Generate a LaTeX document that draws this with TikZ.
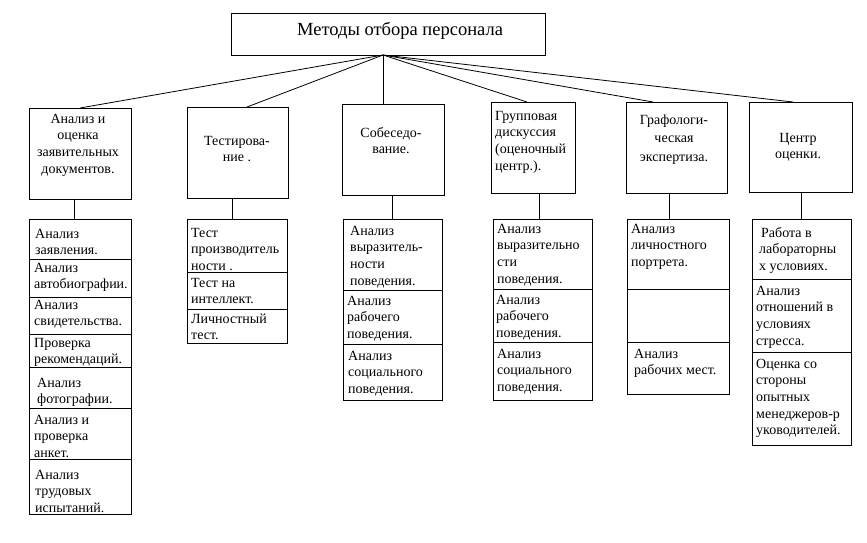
\documentclass[tikz,border=0pt]{standalone}
\usepackage{fontspec}
\setmainfont{Liberation Serif}
\usetikzlibrary{calc}
\newcommand{\cellfont}{\fontsize{14}{16.6}\selectfont}
\newcommand{\titlefont}{\fontsize{18.5}{21}\selectfont}
\tikzset{
  box/.style={draw, line width=0.8pt, inner sep=0pt, anchor=north west},
  txt/.style={anchor=north west, inner sep=0pt, align=left, font=\cellfont, yshift=11.62pt},
  ctxt/.style={anchor=north, inner sep=0pt, align=center, font=\cellfont, yshift=11.62pt},
  conn/.style={line width=0.8pt},
}
\begin{document}
\begin{tikzpicture}[x=1pt,y=-1pt]
\useasboundingbox (0,0) rectangle (867,542);
% title
\node[box, minimum width=314pt, minimum height=42pt] (title) at (231,13) {};
\node[anchor=base west, inner sep=0pt, font=\titlefont] (titletext) at (297,35) {Методы отбора персонала};
\coordinate (hub) at (383,55);
% top boxes
\node[box, minimum width=102pt, minimum height=91pt] (b1) at (29,108) {};
\node[box, minimum width=101pt, minimum height=91pt] (b2) at (187,107) {};
\node[box, minimum width=102pt, minimum height=91pt] (b3) at (342,104) {};
\node[box, minimum width=84pt, minimum height=91pt] (b4) at (491,102) {};
\node[box, minimum width=101pt, minimum height=91pt] (b5) at (626,102) {};
\node[box, minimum width=103pt, minimum height=90pt] (b6) at (749,102) {};
\node[ctxt] (t1) at (78,123) {\strut Анализ и\\оценка\\заявительных\\документов.};
\node[ctxt] (t2) at (237,145) {\strut Тестирова-\\ние .};
\node[ctxt] (t3) at (391,137) {\strut Собеседо-\\вание.};
\node[txt] (t4) at (495,120) {\strut Групповая\\дискуссия\\(оценочный\\центр.).};
\node[ctxt] (t5) at (674,124) {\strut Графологи-\\[2pt]ческая\\[2pt]экспертиза.};
\node[ctxt] (t6) at (798,142) {\strut Центр\\оценки.};
% connectors from title
\draw[conn] (hub) -- ($(b1.north west)+(51,0)$);
\draw[conn] (hub) -- ($(b2.north west)+(60,0)$);
\draw[conn] (hub) -- ($(b3.north west)+(41,0)$);
\draw[conn] (hub) -- ($(b4.north west)+(36,0)$);
\draw[conn] (hub) -- ($(b5.north west)+(27,0)$);
\draw[conn] (hub) -- ($(b6.north west)+(44,0)$);
% column 1
\node[box, minimum width=102pt, minimum height=40pt] (c1a) at (29,219) {};
\node[box, minimum width=102pt, minimum height=38pt] (c1b) at (29,259) {};
\node[box, minimum width=102pt, minimum height=37pt] (c1c) at (29,297) {};
\node[box, minimum width=102pt, minimum height=33pt] (c1d) at (29,334) {};
\node[box, minimum width=102pt, minimum height=41pt] (c1e) at (29,367) {};
\node[box, minimum width=102pt, minimum height=51pt] (c1f) at (29,408) {};
\node[box, minimum width=102pt, minimum height=55pt] (c1g) at (29,459) {};
\node[txt] (s1a) at (35,238) {\strut Анализ\\заявления.};
\node[txt] (s1b) at (34,272) {\strut Анализ\\автобиографии.};
\node[txt] (s1c) at (34,309) {\strut Анализ\\свидетельства.};
\node[txt] (s1d) at (34,347) {\strut Проверка\\рекомендаций.};
\node[txt] (s1e) at (37,387) {\strut Анализ\\фотографии.};
\node[txt] (s1f) at (34,424) {\strut Анализ и\\проверка\\анкет.};
\node[txt] (s1g) at (35,479) {\strut Анализ\\трудовых\\испытаний.};
% column 2
\node[box, minimum width=100pt, minimum height=53pt] (c2a) at (187,219) {};
\node[box, minimum width=100pt, minimum height=37pt] (c2b) at (187,272) {};
\node[box, minimum width=100pt, minimum height=34pt] (c2c) at (187,309) {};
\node[txt] (s2a) at (191,237) {\strut Тест\\производитель\\ности .};
\node[txt] (s2b) at (191,287) {\strut Тест на\\интеллект.};
\node[txt] (s2c) at (191,323) {\strut Личностный\\тест.};
% column 3
\node[box, minimum width=99pt, minimum height=71pt] (c3a) at (343,219) {};
\node[box, minimum width=99pt, minimum height=54pt] (c3b) at (343,290) {};
\node[box, minimum width=99pt, minimum height=56pt] (c3c) at (343,344) {};
\node[txt] (s3a) at (350,235) {\strut Анализ\\выразитель-\\ности\\поведения.};
\node[txt] (s3b) at (347,305) {\strut Анализ\\рабочего\\поведения.};
\node[txt] (s3c) at (348,360) {\strut Анализ\\социального\\поведения.};
% column 4
\node[box, minimum width=99pt, minimum height=70pt] (c4a) at (493,219) {};
\node[box, minimum width=99pt, minimum height=53pt] (c4b) at (493,289) {};
\node[box, minimum width=99pt, minimum height=58pt] (c4c) at (493,342) {};
\node[txt] (s4a) at (497,233) {\strut Анализ\\выразительно\\сти\\поведения.};
\node[txt] (s4b) at (496,304) {\strut Анализ\\рабочего\\поведения.};
\node[txt] (s4c) at (497,358) {\strut Анализ\\социального\\поведения.};
% column 5
\node[box, minimum width=102pt, minimum height=70pt] (c5a) at (627,219) {};
\node[box, minimum width=102pt, minimum height=53pt] (c5b) at (627,289) {};
\node[box, minimum width=102pt, minimum height=52pt] (c5c) at (627,342) {};
\node[txt] (s5a) at (631,233) {\strut Анализ\\личностного\\портрета.};
\node[txt] (s5c) at (634,358) {\strut Анализ\\рабочих мест.};
% column 6
\node[box, minimum width=99pt, minimum height=60pt] (c6a) at (752,219) {};
\node[box, minimum width=99pt, minimum height=73pt] (c6b) at (752,279) {};
\node[box, minimum width=99pt, minimum height=93pt] (c6c) at (752,352) {};
\node[txt] (s6a) at (759,237) {\strut \hspace*{2pt}Работа в\\лабораторны\\х условиях.};
\node[txt] (s6b) at (756,295) {\strut Анализ\\отношений в\\условиях\\стресса.};
\node[txt] (s6c) at (756,368) {\strut Оценка со\\стороны\\опытных\\менеджеров-р\\уководителей.};
% vertical connectors
\draw[conn] ($(b1.south west)+(45,0)$) coordinate (v1) -- (v1 |- c1a.north);
\draw[conn] ($(b2.south west)+(45,0)$) coordinate (v2) -- (v2 |- c2a.north);
\draw[conn] ($(b3.south west)+(50,0)$) coordinate (v3) -- (v3 |- c3a.north);
\draw[conn] ($(b4.south west)+(48,0)$) coordinate (v4) -- (v4 |- c4a.north);
\draw[conn] ($(b5.south west)+(43,0)$) coordinate (v5) -- (v5 |- c5a.north);
\draw[conn] ($(b6.south west)+(52,0)$) coordinate (v6) -- (v6 |- c6a.north);
\end{tikzpicture}
\end{document}
